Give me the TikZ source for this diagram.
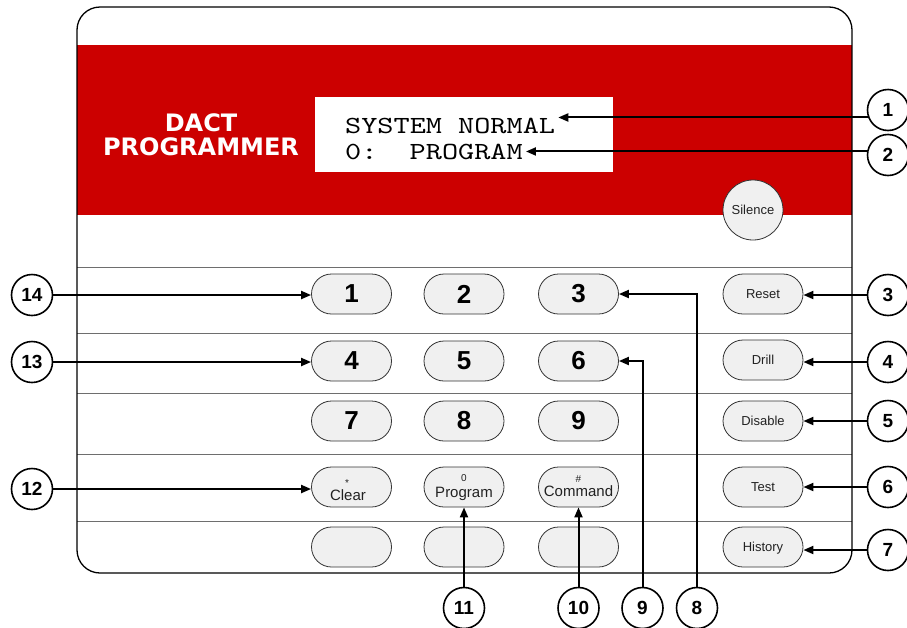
\documentclass[tikz,border=0pt]{standalone}
\usepackage{fontspec}
\setmainfont{Liberation Sans}
\newfontfamily\verdfont{DejaVu Sans}
\newfontfamily\lcdfont[FakeStretch=1.25]{lmmono10-regular.otf}
\usetikzlibrary{arrows.meta,shapes.misc}
\definecolor{panelred}{HTML}{CC0000}
\definecolor{btnfill}{HTML}{F0F0F0}
\definecolor{btnline}{HTML}{333333}
\definecolor{sepgray}{HTML}{6E6E6E}
\definecolor{lbltext}{HTML}{222222}
\pgfdeclarelayer{bg}
\pgfdeclarelayer{conn}
\pgfdeclarelayer{top}
\pgfsetlayers{bg,main,conn,top}
\tikzset{
  btn/.style={rounded rectangle, draw=btnline, fill=btnfill, line width=0.8pt,
    minimum width=80pt, minimum height=40pt, inner sep=0pt},
  digit/.style={font=\bfseries\fontsize{26}{26}\selectfont},
  small/.style={font=\fontsize{13}{13}\selectfont, text=lbltext, text height=9.3pt, text depth=0pt},
  keylbl/.style={font=\fontsize{15}{15}\selectfont, text=lbltext, inner sep=0pt},
  supl/.style={font=\fontsize{10}{10}\selectfont, text=lbltext, inner sep=0pt},
  callout/.style={circle, draw, line width=1.6pt, fill=white, minimum size=41pt,
    inner sep=0pt, font=\bfseries\fontsize{19}{19}\selectfont},
  arr/.style={line width=2pt, -{Triangle[length=10pt,width=8pt]}},
  sepline/.style={draw=sepgray, line width=1pt},
  lcd/.style={font=\lcdfont\fontsize{24.6}{26}\selectfont, anchor=base west,
    inner xsep=3pt, inner ysep=0pt},
  ttl/.style={font=\verdfont\bfseries\fontsize{24}{24}\selectfont, text=white,
    anchor=base, inner sep=0pt},
}
\begin{document}
\begin{tikzpicture}[x=1pt,y=-1pt]
\useasboundingbox (0,0) rectangle (907,627);

\begin{pgfonlayer}{bg}
  \fill[panelred] (77,45) rectangle (852,215);
  \node[fill=white, minimum width=298pt, minimum height=75pt, inner sep=0pt] (disp) at (464,134.5) {};
  \draw[sepline] (77,267) -- (852,267);
  \draw[sepline] (77,333) -- (852,333);
  \draw[sepline] (77,393) -- (852,393);
  \draw[sepline] (77,454) -- (852,454);
  \draw[sepline] (77,521) -- (852,521);
  \draw[line width=1.3pt, rounded corners=23pt] (77,7) rectangle (852,573);
\end{pgfonlayer}

% display text
\node[lcd] (t1) at (342,133) {SYSTEM NORMAL};
\node[lcd] (t2) at (342,159) {0:\ \ PROGRAM};

% title
\node[ttl] (ttla) at (201,131) {DACT};
\node[ttl] (ttlb) at (201,155) {PROGRAMMER};

% silence
\node[circle, draw=btnline, fill=btnfill, line width=0.8pt, minimum size=60pt, inner sep=0pt, small] (silence) at (753,210) {Silence};

% keypad
\node[btn, digit] (k1) at (351.5,294) {1};
\node[btn, digit] (k2) at (464,294) {2};
\node[btn, digit] (k3) at (578.5,294) {3};
\node[btn, digit] (k4) at (351.5,361) {4};
\node[btn, digit] (k5) at (464,361) {5};
\node[btn, digit] (k6) at (578.5,361) {6};
\node[btn, digit] (k7) at (351.5,421) {7};
\node[btn, digit] (k8) at (464,421) {8};
\node[btn, digit] (k9) at (578.5,421) {9};

\node[btn] (clr) at (351.5,487) {};
\node[keylbl, anchor=base] (clrt) at (348,500) {Clear};
\node[supl, anchor=base] (clrs) at (347,486) {*};
\node[btn] (prog) at (464,487) {};
\node[keylbl, anchor=base] (progt) at (464,497) {Program};
\node[supl, anchor=base] (progs) at (464,481) {0};
\node[btn] (cmd) at (578.5,487) {};
\node[keylbl, anchor=base] (cmdt) at (578.5,496) {Command};
\node[supl, anchor=base] (cmds) at (578.5,482) {\#};

\node[btn] (e1) at (351.5,547) {};
\node[btn] (e2) at (464,547) {};
\node[btn] (e3) at (578.5,547) {};

\node[btn, small] (reset) at (763,294) {Reset};
\node[btn, small] (drill) at (763,360) {Drill};
\node[btn, small] (disable) at (763,421) {Disable};
\node[btn, small] (test) at (763,487) {Test};
\node[btn, small] (history) at (763,547) {History};

% callouts
\begin{pgfonlayer}{top}
\node[callout] (c1) at (888,110) {1};
\node[callout] (c2) at (888,155) {2};
\node[callout] (c3) at (888,295) {3};
\node[callout] (c4) at (888,362) {4};
\node[callout] (c5) at (888,421) {5};
\node[callout] (c6) at (888,487) {6};
\node[callout] (c7) at (888,550) {7};
\node[callout] (c8) at (697,608) {8};
\node[callout] (c9) at (642.5,608) {9};
\node[callout] (c10) at (578.5,608) {10};
\node[callout] (c11) at (464,608) {11};
\node[callout] (c12) at (32,489) {12};
\node[callout] (c13) at (32,362) {13};
\node[callout] (c14) at (32,295) {14};
\end{pgfonlayer}

\begin{pgfonlayer}{conn}
  \draw[arr] (c1 |- t1.north east) -- (t1.north east);
  \draw[arr] (c2 |- t2.east) -- (t2.east);
  \draw[arr] (c3) -- (c3 -| reset.east);
  \draw[arr] (c4) -- (c4 -| drill.east);
  \draw[arr] (c5) -- (c5 -| disable.east);
  \draw[arr] (c6) -- (c6 -| test.east);
  \draw[arr] (c7) -- (c7 -| history.east);
  \draw[arr] (c8) |- (k3.east);
  \draw[arr] (c9) |- (k6.east);
  \draw[arr] (c10) -- (cmd.south);
  \draw[arr] (c11) -- (prog.south);
  \draw[arr] (c12) -- (c12 -| clr.west);
  \draw[arr] (c13) -- (c13 -| k4.west);
  \draw[arr] (c14) -- (c14 -| k1.west);
\end{pgfonlayer}
\end{tikzpicture}
\end{document}
